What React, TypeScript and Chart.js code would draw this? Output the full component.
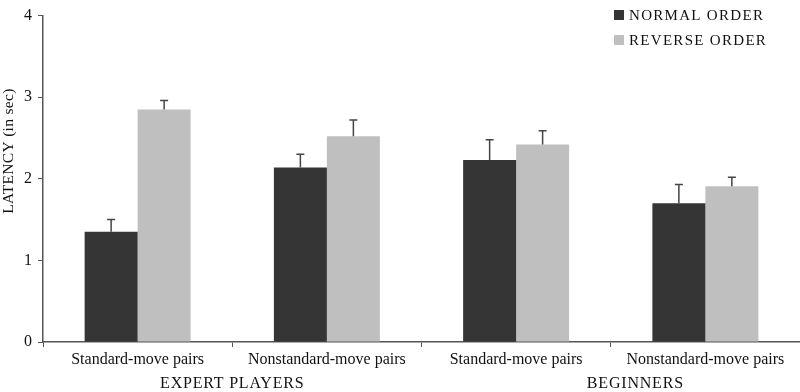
import React, { useEffect, useRef } from "react";
import { Chart, registerables } from "chart.js";

Chart.register(...registerables);

const categories = ["Standard-move pairs", "Nonstandard-move pairs", "Standard-move pairs", "Nonstandard-move pairs"];
const groupLabels = ["EXPERT PLAYERS", "BEGINNERS"];
const normalOrder = [1.35, 2.14, 2.23, 1.70];
const normalErr = [0.15, 0.16, 0.25, 0.23];
const reverseOrder = [2.85, 2.52, 2.42, 1.91];
const reverseErr = [0.11, 0.2, 0.17, 0.11];
const seriesNames = ["NORMAL ORDER", "REVERSE ORDER"];
const yTicks = [0, 1, 2, 3, 4];
const yTitle = "LATENCY (in sec)";

const DARK = "#353535";
const LIGHT = "#bfbfbf";
const AXIS = "#555";
const FONT = "'Liberation Serif', 'Times New Roman', serif";

const errorBarPlugin = {
  id: "errorBars",
  afterDatasetsDraw(chart: any) {
    const ctx = chart.ctx;
    const y = chart.scales.y;
    const errs = [normalErr, reverseErr];
    ctx.save();
    ctx.strokeStyle = "#444";
    ctx.lineWidth = 1.5;
    chart.data.datasets.forEach((ds: any, di: number) => {
      const meta = chart.getDatasetMeta(di);
      meta.data.forEach((bar: any, i: number) => {
        const v = ds.data[i];
        const top = y.getPixelForValue(v + errs[di][i]);
        const base = y.getPixelForValue(v);
        ctx.beginPath();
        ctx.moveTo(bar.x, base);
        ctx.lineTo(bar.x, top);
        ctx.moveTo(bar.x - 4, top);
        ctx.lineTo(bar.x + 4, top);
        ctx.stroke();
      });
    });
    ctx.restore();
  },
};

const textPlugin = {
  id: "extraText",
  afterDraw(chart: any) {
    const ctx = chart.ctx;
    const x = chart.scales.x;
    const y = chart.scales.y;
    const centers = [0.5, 2.63];
    ctx.save();
    ctx.fillStyle = "#111";
    ctx.font = `16px ${FONT}`;
    ctx.textAlign = "center";
    ctx.textBaseline = "middle";
    (ctx as any).letterSpacing = "0.8px";
    groupLabels.forEach((g, i) => {
      ctx.fillText(g, x.getPixelForValue(centers[i]), chart.chartArea.bottom + 42);
    });
    // y-axis title
    (ctx as any).letterSpacing = "0.3px";
    ctx.font = `15.5px ${FONT}`;
    ctx.translate(9, y.getPixelForValue(2.34));
    ctx.rotate(-Math.PI / 2);
    ctx.fillText(yTitle, 0, 0);
    ctx.restore();

    // legend
    const colors = [DARK, LIGHT];
    const left = 614;
    ctx.save();
    ctx.font = `15px ${FONT}`;
    ctx.textBaseline = "middle";
    (ctx as any).letterSpacing = "1.3px";
    seriesNames.forEach((n, i) => {
      const cy = 15 + i * 25;
      ctx.fillStyle = colors[i];
      ctx.fillRect(left, cy - 5, 10, 10);
      ctx.fillStyle = "#111";
      ctx.fillText(n, left + 15, cy + 1);
    });
    ctx.restore();
  },
};

export default function App() {
  const ref = useRef<HTMLCanvasElement>(null);
  useEffect(() => {
    document.body.style.margin = "0";
    const chart = new Chart(ref.current!, {
      type: "bar",
      data: {
        labels: categories,
        datasets: [
          { label: seriesNames[0], data: normalOrder, backgroundColor: DARK, categoryPercentage: 0.56, barPercentage: 1 },
          { label: seriesNames[1], data: reverseOrder, backgroundColor: LIGHT, categoryPercentage: 0.56, barPercentage: 1 },
        ],
      },
      options: {
        animation: false,
        responsive: false,
        layout: { padding: { top: 5, right: 0, left: 0, bottom: 0 } },
        plugins: { legend: { display: false }, tooltip: { enabled: false } },
        scales: {
          x: {
            grid: { offset: true, drawOnChartArea: false, drawTicks: true, tickLength: 5, color: AXIS, lineWidth: 1 },
            border: { color: AXIS, width: 1.5 },
            ticks: { color: "#111", font: { family: FONT, size: 16 }, padding: 3, maxRotation: 0, autoSkip: false },
            afterFit: (s: any) => { s.height = 50; },
          },
          y: {
            min: 0,
            max: 4,
            afterBuildTicks: (s: any) => { s.ticks = yTicks.map((v) => ({ value: v })); },
            grid: { drawOnChartArea: false, drawTicks: true, tickLength: 5, color: AXIS },
            border: { color: AXIS, width: 1.5 },
            ticks: { color: "#111", font: { family: FONT, size: 16 }, padding: 6 },
            afterFit: (s: any) => { s.width = 43; },
          },
        },
      },
      plugins: [errorBarPlugin, textPlugin],
    });
    return () => chart.destroy();
  }, []);
  return (
    <div style={{ position: "absolute", left: 0, top: 0, width: 800, height: 392, background: "#fff" }}>
      <canvas ref={ref} width={800} height={392} style={{ width: 800, height: 392 }} />
    </div>
  );
}
